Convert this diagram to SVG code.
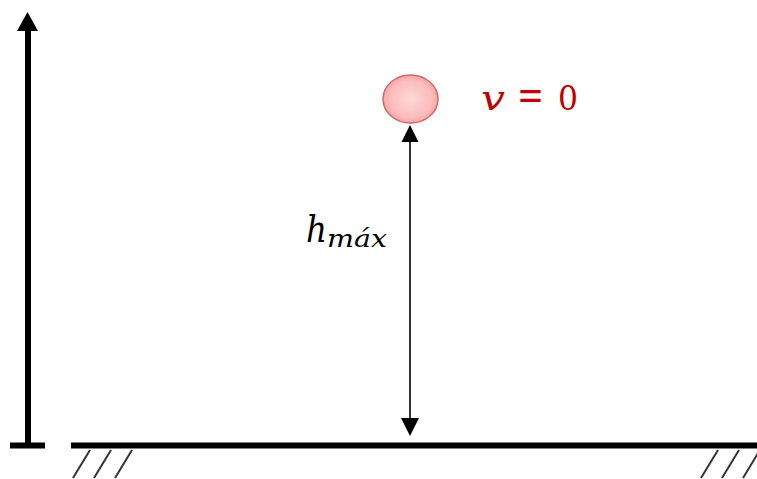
<svg xmlns="http://www.w3.org/2000/svg" width="757" height="479" viewBox="0 0 757 479">
  <style>
    .thick { stroke: #000; stroke-width: 6; fill: none; }
    .hatch { stroke: #333; stroke-width: 2; fill: none; }
    .dim { stroke: #000; stroke-width: 1.6; fill: none; }
  </style>
  <defs>
    <radialGradient id="ballGrad" cx="50%" cy="50%" r="55%">
      <stop offset="0%" stop-color="#ffd8d8"/>
      <stop offset="70%" stop-color="#fbbcbc"/>
      <stop offset="100%" stop-color="#f59c9c"/>
    </radialGradient>
  </defs>
  <rect width="757" height="479" fill="#ffffff"/>

  <g id="axis">
    <line class="thick" x1="28" y1="446" x2="28" y2="28"/>
    <polygon points="27.5,12 17,31 38,31" fill="#000"/>
    <line class="thick" x1="10" y1="445.5" x2="45" y2="445.5"/>
  </g>

  <g id="ground">
    <line class="thick" x1="71" y1="445.5" x2="757" y2="445.5"/>
    <line class="hatch" x1="73" y1="478" x2="90" y2="450"/>
    <line class="hatch" x1="94" y1="478" x2="111" y2="450"/>
    <line class="hatch" x1="115" y1="478" x2="132" y2="450"/>
    <line class="hatch" x1="701" y1="478" x2="718" y2="450"/>
    <line class="hatch" x1="722" y1="478" x2="739" y2="450"/>
    <line class="hatch" x1="743" y1="478" x2="760" y2="450"/>
  </g>

  <g id="ball">
    <ellipse cx="410.5" cy="99" rx="27.5" ry="24" fill="url(#ballGrad)" stroke="#cf6a6a" stroke-width="1.5"/>
  </g>

  <g id="velocity-label">
    <text font-family="'DejaVu Serif', 'Liberation Serif', serif" y="110" font-size="34" fill="#c00000"><tspan x="481" font-style="italic" textLength="24" lengthAdjust="spacingAndGlyphs">v</tspan><tspan x="517" font-size="42" textLength="27" lengthAdjust="spacingAndGlyphs">=</tspan><tspan x="558" textLength="20" lengthAdjust="spacingAndGlyphs">0</tspan></text>
  </g>

  <g id="connectors">
    <line class="dim" x1="410" y1="140" x2="410" y2="420"/>
    <polygon points="410,125 401.5,142 418.5,142" fill="#000"/>
    <polygon points="410,436 401,418 419,418" fill="#000"/>
  </g>

  <g id="height-label">
    <text font-family="'DejaVu Serif', 'Liberation Serif', serif" font-style="italic" x="306" y="242" font-size="37" fill="#000"><tspan textLength="21" lengthAdjust="spacingAndGlyphs">h</tspan><tspan font-size="25" dy="5" textLength="60" lengthAdjust="spacingAndGlyphs">máx</tspan></text>
  </g>
</svg>
